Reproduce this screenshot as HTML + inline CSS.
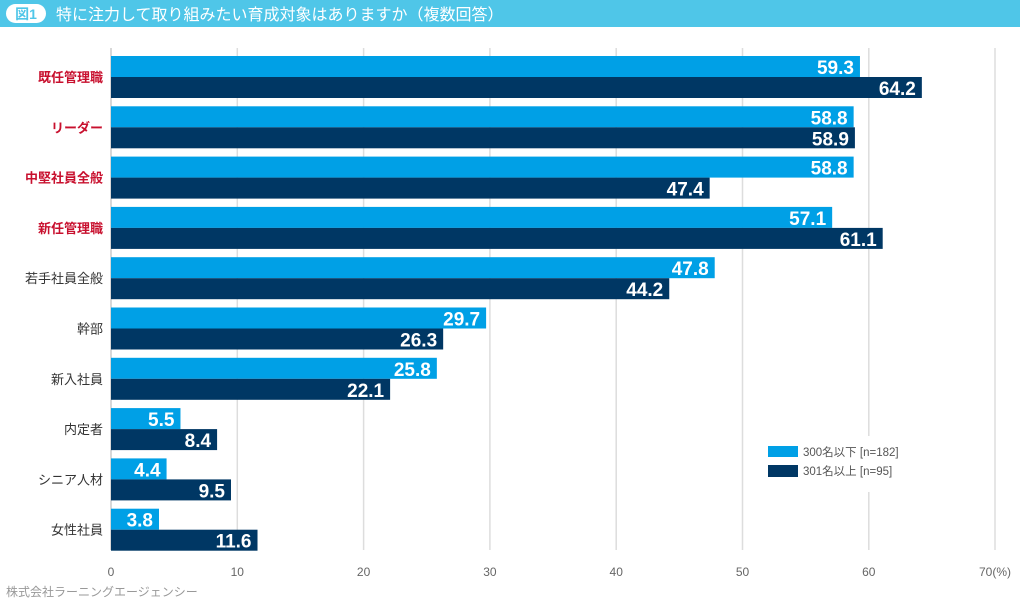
<!DOCTYPE html>
<html><head><meta charset="utf-8">
<style>
html,body{margin:0;padding:0;background:#fff;}
svg{display:block;}
.cat{font-family:"Liberation Sans","Noto Sans CJK JP",sans-serif;font-size:13px;fill:#333;text-anchor:end;}
.red{fill:#c8102e;font-weight:bold;}
.val{font-family:"Liberation Sans Narrow","Liberation Sans",sans-serif;font-weight:bold;font-size:19px;fill:#fff;text-anchor:end;}
.tick{font-family:"Liberation Sans",sans-serif;font-size:12px;fill:#666;text-anchor:middle;}
.l{fill:#00a0e6}.d{fill:#003764}
</style></head><body>
<svg width="1020" height="606" viewBox="0 0 1020 606" xmlns="http://www.w3.org/2000/svg">
<rect x="0" y="0" width="1020" height="27" fill="#4fc6e8"/>
<rect x="6" y="4" width="40" height="19" rx="9.5" fill="#fff"/>
<text x="26" y="19" font-family="'Liberation Sans','Noto Sans CJK JP',sans-serif" font-size="14" font-weight="bold" fill="#4fc6e8" text-anchor="middle">図1</text>
<text x="56" y="20" font-family="'Liberation Sans','Noto Sans CJK JP',sans-serif" font-size="16" fill="#fff">特に注力して取り組みたい育成対象はありますか（複数回答）</text>
<g stroke="#ddd" stroke-width="1.5">
<line x1="237.3" y1="48" x2="237.3" y2="550"/>
<line x1="363.6" y1="48" x2="363.6" y2="550"/>
<line x1="489.9" y1="48" x2="489.9" y2="550"/>
<line x1="616.2" y1="48" x2="616.2" y2="550"/>
<line x1="742.5" y1="48" x2="742.5" y2="550"/>
<line x1="868.8" y1="48" x2="868.8" y2="550"/>
<line x1="995" y1="48" x2="995" y2="550"/>
</g>
<line x1="111" y1="48" x2="111" y2="550" stroke="#ccc" stroke-width="1.5"/>

<rect class="l" x="111" y="56" width="748.96" height="21"/><rect class="d" x="111" y="77" width="810.85" height="21"/>
<text class="val" x="853.96" y="74">59.3</text><text class="val" x="915.85" y="95">64.2</text>
<text class="cat red" x="103" y="82">既任管理職</text>

<rect class="l" x="111" y="106.3" width="742.64" height="21"/><rect class="d" x="111" y="127.3" width="743.91" height="21"/>
<text class="val" x="847.64" y="124.3">58.8</text><text class="val" x="848.91" y="145.3">58.9</text>
<text class="cat red" x="103" y="132.3">リーダー</text>

<rect class="l" x="111" y="156.6" width="742.64" height="21"/><rect class="d" x="111" y="177.6" width="598.66" height="21"/>
<text class="val" x="847.64" y="174.6">58.8</text><text class="val" x="703.66" y="195.6">47.4</text>
<text class="cat red" x="103" y="182.6">中堅社員全般</text>

<rect class="l" x="111" y="206.9" width="721.17" height="21"/><rect class="d" x="111" y="227.9" width="771.69" height="21"/>
<text class="val" x="826.17" y="224.9">57.1</text><text class="val" x="876.69" y="245.9">61.1</text>
<text class="cat red" x="103" y="232.9">新任管理職</text>

<rect class="l" x="111" y="257.2" width="603.71" height="21"/><rect class="d" x="111" y="278.2" width="558.25" height="21"/>
<text class="val" x="708.71" y="275.2">47.8</text><text class="val" x="663.25" y="296.2">44.2</text>
<text class="cat" x="103" y="283.2">若手社員全般</text>

<rect class="l" x="111" y="307.5" width="375.11" height="21"/><rect class="d" x="111" y="328.5" width="332.17" height="21"/>
<text class="val" x="480.11" y="325.5">29.7</text><text class="val" x="437.17" y="346.5">26.3</text>
<text class="cat" x="103" y="333.5">幹部</text>

<rect class="l" x="111" y="357.8" width="325.85" height="21"/><rect class="d" x="111" y="378.8" width="279.12" height="21"/>
<text class="val" x="430.85" y="375.8">25.8</text><text class="val" x="384.12" y="396.8">22.1</text>
<text class="cat" x="103" y="383.8">新入社員</text>

<rect class="l" x="111" y="408.1" width="69.47" height="21"/><rect class="d" x="111" y="429.1" width="106.09" height="21"/>
<text class="val" x="174.47" y="426.1">5.5</text><text class="val" x="211.09" y="447.1">8.4</text>
<text class="cat" x="103" y="434.1">内定者</text>

<rect class="l" x="111" y="458.4" width="55.57" height="21"/><rect class="d" x="111" y="479.4" width="119.99" height="21"/>
<text class="val" x="160.57" y="476.4">4.4</text><text class="val" x="224.99" y="497.4">9.5</text>
<text class="cat" x="103" y="484.4">シニア人材</text>

<rect class="l" x="111" y="508.7" width="47.99" height="21"/><rect class="d" x="111" y="529.7" width="146.51" height="21"/>
<text class="val" x="152.99" y="526.7">3.8</text><text class="val" x="251.51" y="547.7">11.6</text>
<text class="cat" x="103" y="534.7">女性社員</text>

<rect x="760" y="436" width="120" height="56" fill="#fff"/>
<rect x="768" y="446" width="30" height="11" fill="#00a0e6"/>
<rect x="768" y="465" width="30" height="12" fill="#003764"/>
<text x="803" y="456" font-family="'Liberation Sans','Noto Sans CJK JP',sans-serif" font-size="11.5" fill="#555">300名以下 [n=182]</text>
<text x="803" y="475" font-family="'Liberation Sans','Noto Sans CJK JP',sans-serif" font-size="11.5" fill="#555">301名以上 [n=95]</text>
<text class="tick" x="111" y="576">0</text>
<text class="tick" x="237.3" y="576">10</text>
<text class="tick" x="363.6" y="576">20</text>
<text class="tick" x="489.9" y="576">30</text>
<text class="tick" x="616.2" y="576">40</text>
<text class="tick" x="742.5" y="576">50</text>
<text class="tick" x="868.8" y="576">60</text>
<text class="tick" x="995" y="576">70(%)</text>
<text x="6" y="596" font-family="'Liberation Sans','Noto Sans CJK JP',sans-serif" font-size="12" fill="#999">株式会社ラーニングエージェンシー</text>
</svg>
</body></html>
